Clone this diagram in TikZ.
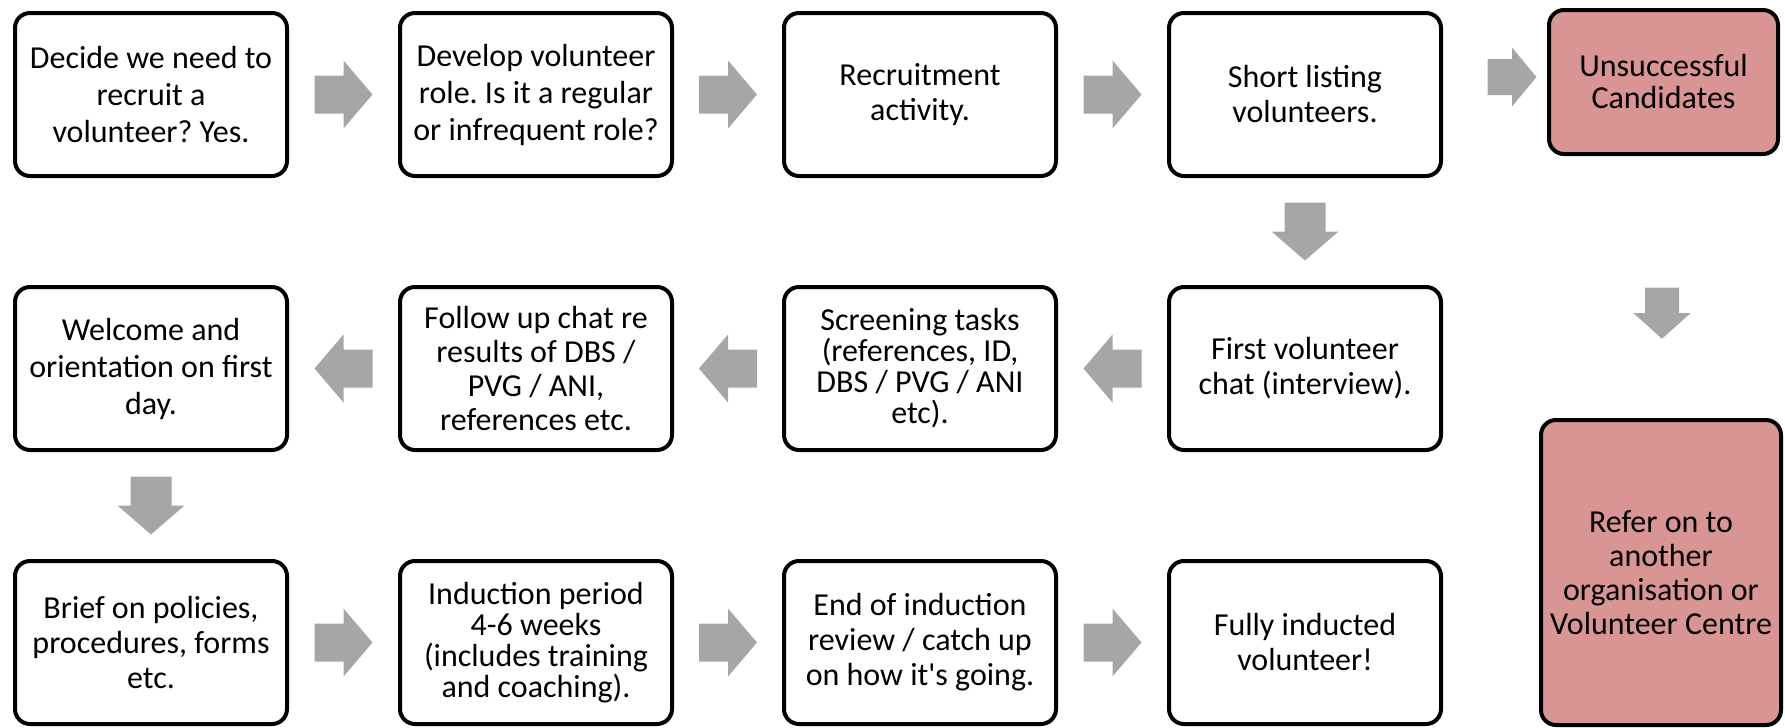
\documentclass[tikz,border=0pt]{standalone}
\usepackage{fontspec}
\setmainfont{Carlito}[Ligatures=TeXOff]
\frenchspacing
\usetikzlibrary{calc}

\definecolor{arrowgray}{HTML}{A6A6A6}
\definecolor{rejectfill}{HTML}{D99594}

\tikzset{
  stepbox/.style={draw=black, line width=2pt, rounded corners=7.5pt, fill=white,
    minimum width=136pt, minimum height=81.5pt, align=center, inner sep=2pt,
    font=\fontsize{16pt}{17.5pt}\selectfont\frenchspacing},
  tightbox/.style={stepbox, font=\fontsize{16pt}{15.5pt}\selectfont\frenchspacing},
  rejectbox/.style={stepbox, fill=rejectfill},
  % block arrow pointing along +x: total length / head width / shaft width
  pics/blockarrow/.style args={#1/#2/#3}{code={
    \fill[arrowgray] (-#1/2,-#3/2) -- (0,-#3/2) -- (0,-#2/2) -- (#1/2,0)
      -- (0,#2/2) -- (0,#3/2) -- (-#1/2,#3/2) -- cycle;
  }}
}

\begin{document}
\begin{tikzpicture}[x=0.5pt, y=-0.5pt]
\useasboundingbox (0,0) rectangle (1785,728);

% first row
\node[stepbox, font=\fontsize{16pt}{18.5pt}\selectfont\frenchspacing] (d1) at (151,94.5)
  {Decide we need to\\recruit a\\volunteer? Yes.};
\node[stepbox, font=\fontsize{16pt}{18.5pt}\selectfont\frenchspacing] (d2) at (536,94.5)
  {Develop volunteer\\role. Is it a regular\\or infrequent role?};
\node[stepbox] (d3) at (920,94.5)  {Recruitment\\activity.};
\node[stepbox] (d4) at (1305,94.5) {Short listing\\volunteers.};

% second row
\node[stepbox] (e4) at (1305,368.5) {First volunteer\\chat (interview).};
\node[tightbox] (e3) at (920,368.5)  {Screening tasks\\(references, ID,\\DBS / PVG / ANI\\etc).};
\node[stepbox, font=\fontsize{16pt}{17pt}\selectfont\frenchspacing] (e2) at (536,368.5)
  {Follow up chat re\\results of DBS /\\PVG / ANI,\\references etc.};
\node[stepbox, font=\fontsize{16pt}{18.5pt}\selectfont\frenchspacing] (e1) at (151,368.5)
  {Welcome and\\orientation on first\\day.};

% third row
\node[stepbox] (f1) at (151,642.5)  {Brief on policies,\\procedures, forms\\etc.};
\node[tightbox] (f2) at (536,642.5)  {Induction period\\4-6 weeks\\(includes training\\and coaching).};
\node[stepbox] (f3) at (920,642.5)  {End of induction\\review / catch up\\on how it's going.};
\node[stepbox] (f4) at (1305,642.5) {Fully inducted\\volunteer!};

% rejection branch
\node[rejectbox, minimum width=114.5pt, minimum height=72pt,
      font=\fontsize{16pt}{16pt}\selectfont\frenchspacing] (unsucc) at (1663.5,82)
  {Unsuccessful\\Candidates};
\node[rejectbox, minimum width=120pt, minimum height=152.5pt,
      font=\fontsize{16pt}{17pt}\selectfont\frenchspacing] (refer) at (1661,572.5)
  {Refer on to\\another\\organisation or\\Volunteer Centre};

% arrows along the first row
\pic at ($(d1.east)!0.5!(d2.west)$) {blockarrow=58/68/38};
\pic at ($(d2.east)!0.5!(d3.west)$) {blockarrow=58/68/38};
\pic at ($(d3.east)!0.5!(d4.west)$) {blockarrow=58/68/38};
\pic at ($(unsucc.west)+(-35,-5)$) {blockarrow=49/59/36};

% down to the second row
\pic[rotate=-90] at ($(d4.south)!0.5!(e4.north)$) {blockarrow=58/67/41};
\pic[rotate=-90] at ($(unsucc.south)!0.6!(refer.north)$) {blockarrow=51/57/34};

% second row runs right to left
\pic[rotate=180] at ($(e4.west)!0.5!(e3.east)$) {blockarrow=58/68/38};
\pic[rotate=180] at ($(e3.west)!0.5!(e2.east)$) {blockarrow=58/68/38};
\pic[rotate=180] at ($(e2.west)!0.5!(e1.east)$) {blockarrow=58/68/38};

% down to the third row
\pic[rotate=-90] at ($(e1.south)!0.5!(f1.north)$) {blockarrow=58/67/41};

% arrows along the third row
\pic at ($(f1.east)!0.5!(f2.west)$) {blockarrow=58/68/38};
\pic at ($(f2.east)!0.5!(f3.west)$) {blockarrow=58/68/38};
\pic at ($(f3.east)!0.5!(f4.west)$) {blockarrow=58/68/38};
\end{tikzpicture}
\end{document}
